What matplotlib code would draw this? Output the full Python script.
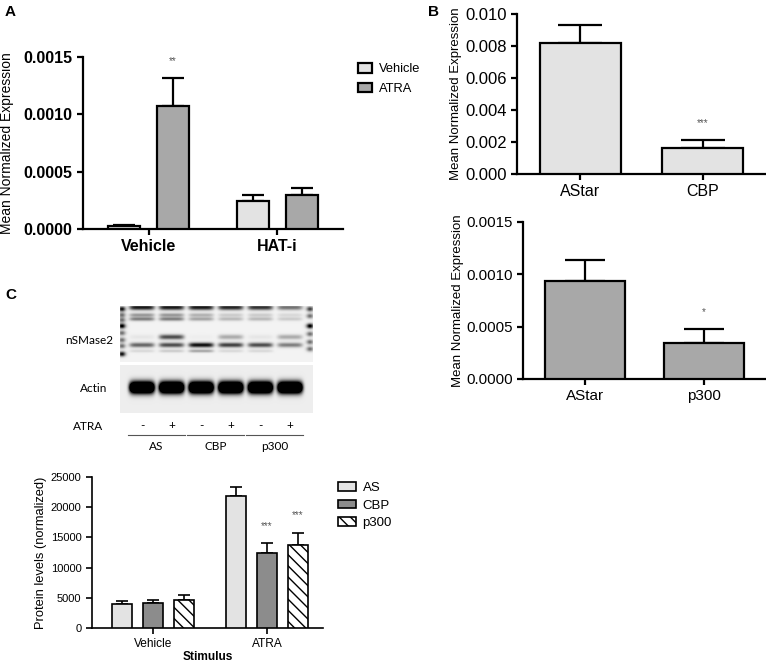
import numpy as np
import matplotlib
matplotlib.use("Agg")
import matplotlib.pyplot as plt

plt.rcParams['font.family'] = ['Liberation Sans', 'DejaVu Sans']
plt.rcParams['hatch.linewidth'] = 1.0

W, H = 766, 663

# ---- data ----
# panel A: qPCR, HAT inhibitor
a_groups = ['Vehicle', 'HAT-i']
a_series = ['Vehicle', 'ATRA']
a_mean = [[0.00003, 0.000245], [0.00107, 0.000297]]
a_err = [[0.000005, 0.000053], [0.000245, 0.00006]]
a_sig = [['', ''], ['**', '']]

# panel B: siRNA knockdowns
b1_labels = ['AStar', 'CBP']
b1_mean = [0.0082, 0.0016]
b1_err = [0.0011, 0.0005]
b1_sig = ['', '***']

b2_labels = ['AStar', 'p300']
b2_mean = [0.000936, 0.000347]
b2_err = [0.0002, 0.000127]
b2_sig = ['', '*']

# panel C: densitometry
c_groups = ['Vehicle', 'ATRA']
c_series = ['AS', 'CBP', 'p300']
c_mean = [[3925, 21920], [4090, 12480], [4640, 13750]]
c_err = [[545, 1380], [550, 1550], [830, 2040]]
c_sig = [['', ''], ['', '***'], ['', '***']]

# western blot band intensities (lanes: AS -/+, CBP -/+, p300 -/+)
blot_groups = ['AS', 'CBP', 'p300']
atra_signs = ['-', '+', '-', '+', '-', '+']
top_band = [0.85, 0.85, 0.85, 0.8, 0.75, 0.5]
upper_band_a = [0.35, 0.35, 0.25, 0.15, 0.15, 0.1]
upper_band_b = [0.45, 0.45, 0.3, 0.22, 0.22, 0.15]
nsm_upper = [0.05, 0.65, 0.02, 0.28, 0.05, 0.28]
nsm_lower = [0.55, 0.65, 0.9, 0.7, 0.65, 0.45]
faint_band = [0.1, 0.15, 0.3, 0.1, 0.1, 0.0]
actin_band = [2.2, 2.2, 2.2, 2.2, 2.2, 2.2]

fig = plt.figure(figsize=(W / 100, H / 100), dpi=100)


def px_axes(l, t, r, b):
    return fig.add_axes([l / W, 1 - b / H, (r - l) / W, (b - t) / H])


def style(ax, lw, ylabel, label_right, size):
    for s in ['top', 'right']:
        ax.spines[s].set_visible(False)
    for s in ['left', 'bottom']:
        ax.spines[s].set_linewidth(lw)
    ax.tick_params(direction='out', length=4, width=lw)
    ax.set_ylabel(ylabel, fontsize=size)
    pos = ax.get_position()
    ax.yaxis.set_label_coords((label_right / W - pos.x0) / pos.width, 0.5)


def up_err(ax, x, mean, err, cap, lw):
    ax.errorbar(x, mean, yerr=[np.zeros(len(err)), err], fmt='none', ecolor='black',
                elinewidth=lw, capsize=cap, capthick=lw, zorder=2)


def stars(ax, x, top, sig, size=7):
    for xi, t, s in zip(x, top, sig):
        if s:
            ax.annotate(s, xy=(xi, t), xytext=(0, 12.5), textcoords='offset points',
                        ha='center', va='center', fontsize=size, color='#555555')


light, mid, dark = '#e3e3e3', '#a8a8a8', '#8c8c8c'

# ---- panel A ----
ax = px_axes(83, 57, 343, 229)
x = np.arange(len(a_groups))
offs = [-0.19, 0.19]
cols = [light, mid]
for i, name in enumerate(a_series):
    ax.bar(x + offs[i], a_mean[i], 0.25, color=cols[i], edgecolor='black', linewidth=1.6,
           label=name, zorder=3)
    up_err(ax, x + offs[i], a_mean[i], a_err[i], 8, 1.6)
    stars(ax, x + offs[i], np.add(a_mean[i], a_err[i]), a_sig[i])
ax.set_xlim(-0.51, 1.51)
ax.set_ylim(0, 0.0015)
ax.set_yticks([0, 0.0005, 0.0010, 0.0015])
ax.set_yticklabels(['%.4f' % v for v in ax.get_yticks()], fontsize=11.5, fontweight='bold')
ax.set_xticks(x)
ax.set_xticklabels(a_groups, fontsize=11.5, fontweight='bold')
style(ax, 1.6, 'Mean Normalized Expression', 14, 10)
ax.legend(loc='upper left', bbox_to_anchor=(358 / W, 1 - 63 / H), bbox_transform=fig.transFigure,
          frameon=False, fontsize=9.3, handlelength=1.1, handleheight=0.8, handletextpad=0.55,
          labelspacing=0.55, borderpad=0, borderaxespad=0)

# ---- panel B top ----
ax = px_axes(517, 14, 766, 174)
x = np.arange(len(b1_labels))
ax.bar(x, b1_mean, 0.67, color=light, edgecolor='black', linewidth=1.6, zorder=3)
up_err(ax, x, b1_mean, b1_err, 15.5, 1.6)
stars(ax, x, np.add(b1_mean, b1_err), b1_sig)
ax.set_xlim(-0.52, 1.52)
ax.set_ylim(0, 0.010)
ax.set_yticks(np.arange(0, 0.0101, 0.002))
ax.set_yticklabels(['%.3f' % v for v in ax.get_yticks()], fontsize=12)
ax.set_xticks(x)
ax.set_xticklabels(b1_labels, fontsize=11.5)
style(ax, 1.6, 'Mean Normalized Expression', 462, 9.5)

# ---- panel B bottom ----
ax = px_axes(523, 222, 766, 379)
x = np.arange(len(b2_labels))
ax.bar(x, b2_mean, 0.67, color=mid, edgecolor='black', linewidth=1.6, zorder=3)
up_err(ax, x, b2_mean, b2_err, 14.4, 1.6)
stars(ax, x, np.add(b2_mean, b2_err), b2_sig)
ax.set_xlim(-0.52, 1.52)
ax.set_ylim(0, 0.0015)
ax.set_yticks([0, 0.0005, 0.0010, 0.0015])
ax.set_yticklabels(['%.4f' % v for v in ax.get_yticks()], fontsize=10.8)
ax.set_xticks(x)
ax.set_xticklabels(b2_labels, fontsize=11)
style(ax, 1.6, 'Mean Normalized Expression', 464, 9.5)

# ---- panel C chart ----
ax = px_axes(92, 477, 323, 628)
x = np.arange(len(c_groups))
offs = [-0.27, 0.0, 0.27]
cols = [light, dark, 'white']
hatches = [None, None, '\\\\\\']
for i, name in enumerate(c_series):
    ax.bar(x + offs[i], c_mean[i], 0.175, color=cols[i], edgecolor='black', linewidth=1.2,
           hatch=hatches[i], label=name, zorder=3)
    up_err(ax, x + offs[i], c_mean[i], c_err[i], 4.3, 1.2)
    stars(ax, x + offs[i], np.add(c_mean[i], c_err[i]), c_sig[i])
ax.set_xlim(-0.535, 1.49)
ax.set_ylim(0, 25000)
ax.set_yticks(np.arange(0, 25001, 5000))
ax.set_xticks(x)
ax.set_xticklabels(c_groups, fontsize=8.6)
ax.set_xlabel('Stimulus', fontsize=8.6, fontweight='bold', labelpad=0.5)
style(ax, 1.2, 'Protein levels (normalized)', 47, 9.3)
ax.tick_params(axis='y', labelsize=8)
ax.legend(loc='upper left', bbox_to_anchor=(338 / W, 1 - 482 / H), bbox_transform=fig.transFigure,
          frameon=False, fontsize=9.5, handlelength=1.36, handleheight=0.6, handletextpad=0.5,
          labelspacing=0.42, borderpad=0, borderaxespad=0)

# ---- panel C blot (overlay in pixel units) ----
ov = fig.add_axes([0, 0, 1, 1])
ov.axis('off')

blot_w = 193
lane_x = 22 + 29.6 * np.arange(6)


def blot(h, rows, ladders, bg):
    yy, xx = np.mgrid[0:h, 0:blot_w] + 0.5
    img = np.zeros((h, blot_w))
    for yc, sy, vals in rows:
        for xc, v in zip(lane_x, vals):
            img += v * np.exp(-((xx - xc) / 12.5) ** 6 - ((yy - yc) / sy) ** 2)
    for xc, yc, v in ladders:
        img += v * np.exp(-((xx - xc) / 3.5) ** 2 - ((yy - yc) / 2.5) ** 2)
    return np.clip(bg - img, 0, 1)


nsm_rows = [(1.5, 2.6, top_band), (9, 2.0, upper_band_a), (13, 2.0, upper_band_b),
            (31, 2.5, nsm_upper), (39, 2.4, nsm_lower), (45, 1.6, faint_band)]
nsm_ladder = [(2, 3, 0.9), (2, 9, 0.5), (2, 14, 0.5), (2, 20, 1.0), (2, 27, 0.5), (2, 34, 0.5),
              (2, 40, 0.5), (2, 48, 0.9),
              (190, 3, 0.7), (190, 10, 0.5), (190, 20, 1.0), (190, 28, 0.5), (190, 36, 0.5),
              (190, 43, 0.5)]
ov.imshow(blot(56, nsm_rows, nsm_ladder, 0.95), cmap='gray', vmin=0, vmax=1, aspect='auto',
          extent=(120, 313, 362, 306), interpolation='bilinear')
ov.imshow(blot(48, [(22.5, 5.8, actin_band)], [], 0.93), cmap='gray', vmin=0, vmax=1,
          aspect='auto', extent=(120, 313, 413, 365), interpolation='bilinear')
ov.set_xlim(0, W)
ov.set_ylim(H, 0)

bfont = dict(family=['Lato', 'DejaVu Sans'], fontsize=8.5)
ov.text(113, 341, 'nSMase2', ha='right', va='center', **bfont)
ov.text(107, 388, 'Actin', ha='right', va='center', **bfont)
ov.text(103, 426, 'ATRA', ha='right', va='center', **bfont)
for xc, s in zip(lane_x + 120, atra_signs):
    ov.text(xc, 426, s, ha='center', va='center', **bfont)
for g, name in enumerate(blot_groups):
    x0, x1 = lane_x[2 * g] + 120 - 14, lane_x[2 * g + 1] + 120 + 13
    ov.plot([x0, x1], [435, 435], color='#555555', lw=0.8)
    ov.text((x0 + x1) / 2, 447, name, ha='center', va='center', **bfont)

# panel letters
for lbl, px, py in [('A', 5, 12), ('B', 428, 12), ('C', 5, 295)]:
    fig.text(px / W, 1 - py / H, lbl, fontsize=11, fontweight='bold', va='center')

fig.savefig('out.png', dpi=100)
